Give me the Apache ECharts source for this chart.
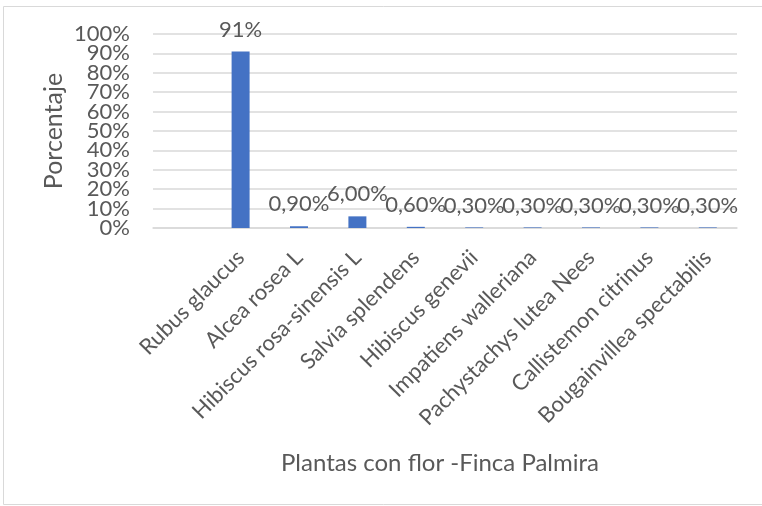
<!DOCTYPE html>
<html>
<head>
<meta charset="utf-8">
<script src="https://cdn.jsdelivr.net/npm/echarts@6/dist/echarts.min.js"></script>
<style>
html,body{margin:0;padding:0;background:#fff;}
#c{width:762px;height:506px;}
</style>
</head>
<body>
<div id="c"></div>
<script>
const categories = ["", "Rubus glaucus", "Alcea rosea L", "Hibiscus rosa-sinensis L", "Salvia splendens", "Hibiscus genevii", "Impatiens walleriana", "Pachystachys lutea Nees", "Callistemon citrinus", "Bougainvillea spectabilis"];
const values = ["-", 91, 0.9, 6, 0.6, 0.3, 0.3, 0.3, 0.3, 0.3];
const valueLabels = ["", "91%", "0,90%", "6,00%", "0,60%", "0,30%", "0,30%", "0,30%", "0,30%", "0,30%"];
const yTicks = [0, 100, 10];
const xTitle = "Plantas con flor -Finca Palmira";
const yTitle = "Porcentaje";

const FONT = "Lato";
const TXT = "#595959";
const yLabelStyle = {fontSize: 22, color: TXT, margin: 23, fontFamily: FONT};
const chart = echarts.init(document.getElementById('c'));
chart.setOption({
  animation: false,
  textStyle: {fontFamily: FONT},
  graphic: [{
    type: 'rect', silent: true,
    shape: {x: 3.5, y: 6.5, width: 780, height: 498},
    style: {fill: null, stroke: '#d9d9d9', lineWidth: 1}
  }],
  grid: {left: 153, right: 25, top: 34, bottom: 278},
  xAxis: {
    type: 'category',
    data: categories,
    axisLine: {show: true, lineStyle: {color: '#d9d9d9', width: 1.5}},
    axisTick: {show: false},
    axisLabel: {interval: 0, rotate: 45, margin: 26, fontSize: 22, color: TXT, fontFamily: FONT},
    name: xTitle,
    nameLocation: 'middle',
    nameGap: 223,
    nameTextStyle: {fontSize: 24, color: TXT, fontFamily: FONT, padding: [0, 10, 0, 0]}
  },
  yAxis: [{
    type: 'value',
    min: yTicks[0], max: yTicks[1], interval: yTicks[2],
    axisLine: {show: false},
    axisTick: {show: false},
    splitLine: {lineStyle: {color: '#d9d9d9', width: 1.5}},
    axisLabel: Object.assign({formatter: '{value}%', showMinLabel: false, showMaxLabel: false}, yLabelStyle),
    name: yTitle,
    nameLocation: 'middle',
    nameGap: 87,
    nameTextStyle: {fontSize: 25, color: TXT, fontFamily: FONT}
  }, {
    type: 'value',
    position: 'left',
    min: yTicks[0], max: yTicks[1], interval: yTicks[2],
    axisLine: {show: false},
    axisTick: {show: false},
    splitLine: {show: false},
    axisLabel: Object.assign({
      formatter: v => (v === yTicks[0] || v === yTicks[1]) ? v + '%' : '',
      showMinLabel: true, showMaxLabel: true}, yLabelStyle)
  }],
  series: [{
    type: 'bar',
    data: values,
    barWidth: 18,
    itemStyle: {color: '#4472C4'},
    label: {
      show: true, position: 'top', distance: 11,
      fontSize: 22, color: TXT, fontFamily: FONT,
      formatter: p => valueLabels[p.dataIndex]
    }
  }]
});
</script>
</body>
</html>
